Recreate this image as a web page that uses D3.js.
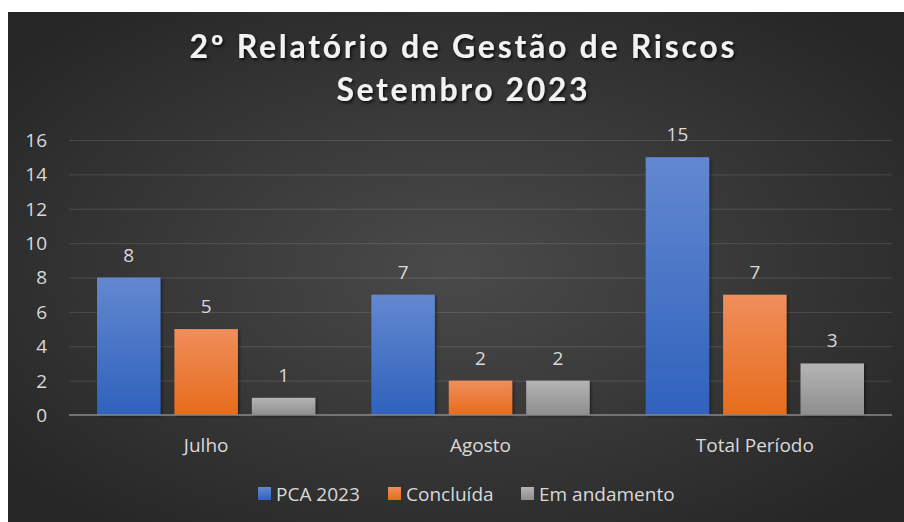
<!DOCTYPE html>
<html><head><meta charset="utf-8">
<script src="https://cdn.jsdelivr.net/npm/d3@7"></script>
<style>html,body{margin:0;padding:0;background:#fff;}svg{display:block;}</style>
</head><body>
<svg id="c" width="904" height="522"></svg>
<script>
const categories = ["Julho", "Agosto", "Total Período"];
const seriesNames = ["PCA 2023", "Concluída", "Em andamento"];
const pca2023 = [8, 7, 15];
const concluida = [5, 2, 7];
const emAndamento = [1, 2, 3];
const yTicks = [0, 2, 4, 6, 8, 10, 12, 14, 16];
const titleLines = ["2º Relatório de Gestão de Riscos", "Setembro 2023"];

const seriesValues = [pca2023, concluida, emAndamento];
const colors = [
  {top:"#6388d0", bot:"#2f62bd"},
  {top:"#f08e5c", bot:"#e66c1b"},
  {top:"#b4b4b4", bot:"#8e8e8e"}
];

const svg = d3.select("#c");
const defs = svg.append("defs");
const bg = defs.append("radialGradient").attr("id","bg").attr("cx","50%").attr("cy","50%").attr("r","65%");
bg.append("stop").attr("offset","0%").attr("stop-color","#4a4a4a");
bg.append("stop").attr("offset","100%").attr("stop-color","#262626");
colors.forEach((c,i)=>{
  const g = defs.append("linearGradient").attr("id","g"+i).attr("x1",0).attr("y1",0).attr("x2",0).attr("y2",1);
  g.append("stop").attr("offset","0%").attr("stop-color",c.top);
  g.append("stop").attr("offset","100%").attr("stop-color",c.bot);
});
const ts = defs.append("filter").attr("id","tshadow").attr("x","-10%").attr("y","-30%").attr("width","120%").attr("height","160%");
ts.append("feDropShadow").attr("dx",1.5).attr("dy",2).attr("stdDeviation",1.5).attr("flood-color","#000").attr("flood-opacity",0.75);
const bs = defs.append("filter").attr("id","bshadow").attr("x","-20%").attr("y","-20%").attr("width","140%").attr("height","140%");
bs.append("feDropShadow").attr("dx",1.5).attr("dy",1.5).attr("stdDeviation",1.5).attr("flood-color","#000").attr("flood-opacity",0.45);

svg.append("rect").attr("x",8).attr("y",12).attr("width",896).attr("height",510).attr("fill","url(#bg)");

// title
const titleSizes = [545, 251];
const titleY = [58, 101];
titleLines.forEach((t,i)=>{
  svg.append("text").attr("x",462).attr("y",titleY[i]).attr("text-anchor","middle")
    .attr("font-family","Lato, 'Open Sans'").attr("font-weight","bold").attr("font-size",32)
    .attr("fill","#f2f2f2").attr("filter","url(#tshadow)")
    .attr("textLength",titleSizes[i]).attr("lengthAdjust","spacing")
    .text(t);
});

const x0 = d3.scaleBand().domain(categories).range([69, 892]).paddingInner(0).paddingOuter(0);
const x1 = d3.scaleBand().domain(seriesNames).range([28, x0.bandwidth()-28]).paddingInner(0.18).paddingOuter(0);
const y = d3.scaleLinear().domain([0,16]).range([415,140]);

// gridlines
svg.append("g").selectAll("line").data(yTicks.filter(d=>d>0)).join("line")
  .attr("x1",69).attr("x2",892).attr("y1",d=>y(d)+0.5).attr("y2",d=>y(d)+0.5)
  .attr("stroke","#ffffff").attr("stroke-opacity",0.13).attr("stroke-width",1);

// y axis labels
const yAxis = d3.axisLeft(y).tickValues(yTicks).tickSize(0).tickPadding(0);
const ya = svg.append("g").attr("transform","translate(47,0)").call(yAxis);
ya.select(".domain").remove();
ya.selectAll("text").attr("font-family","'Open Sans'").attr("font-size",19).attr("fill","#d9d9d9").attr("dy","0.34em");

// bars
const groups = svg.append("g").selectAll("g").data(categories).join("g")
  .attr("transform",d=>`translate(${x0(d)},0)`);
groups.each(function(cat,ci){
  const g = d3.select(this);
  seriesNames.forEach((s,si)=>{
    const v = seriesValues[si][ci];
    g.append("rect").attr("x",x1(s)).attr("width",x1.bandwidth())
      .attr("y",y(v)).attr("height",y(0)-y(v))
      .attr("fill",`url(#g${si})`).attr("filter","url(#bshadow)");
    g.append("text").attr("x",x1(s)+x1.bandwidth()/2).attr("y",y(v)-16)
      .attr("text-anchor","middle").attr("font-family","'Open Sans'").attr("font-size",19)
      .attr("fill","#d9d9d9").text(v);
  });
});

// x axis
svg.append("line").attr("x1",69).attr("x2",892).attr("y1",415).attr("y2",415)
  .attr("stroke","#8a8a8a").attr("stroke-width",1.5);
const xAxis = d3.axisBottom(x0).tickSize(0).tickPadding(0);
const xa = svg.append("g").attr("transform","translate(0,452)").call(xAxis);
xa.select(".domain").remove();
xa.selectAll("text").attr("font-family","'Open Sans'").attr("font-size",19).attr("fill","#d9d9d9").attr("dy",0);

// legend
const legX = [258, 388, 521];
const leg = svg.append("g");
seriesNames.forEach((s,i)=>{
  leg.append("rect").attr("x",legX[i]).attr("y",487).attr("width",13).attr("height",13).attr("fill",`url(#g${i})`);
  leg.append("text").attr("x",legX[i]+18).attr("y",501).attr("font-family","'Open Sans'").attr("font-size",19)
    .attr("fill","#d9d9d9").text(s);
});
</script>
</body></html>
